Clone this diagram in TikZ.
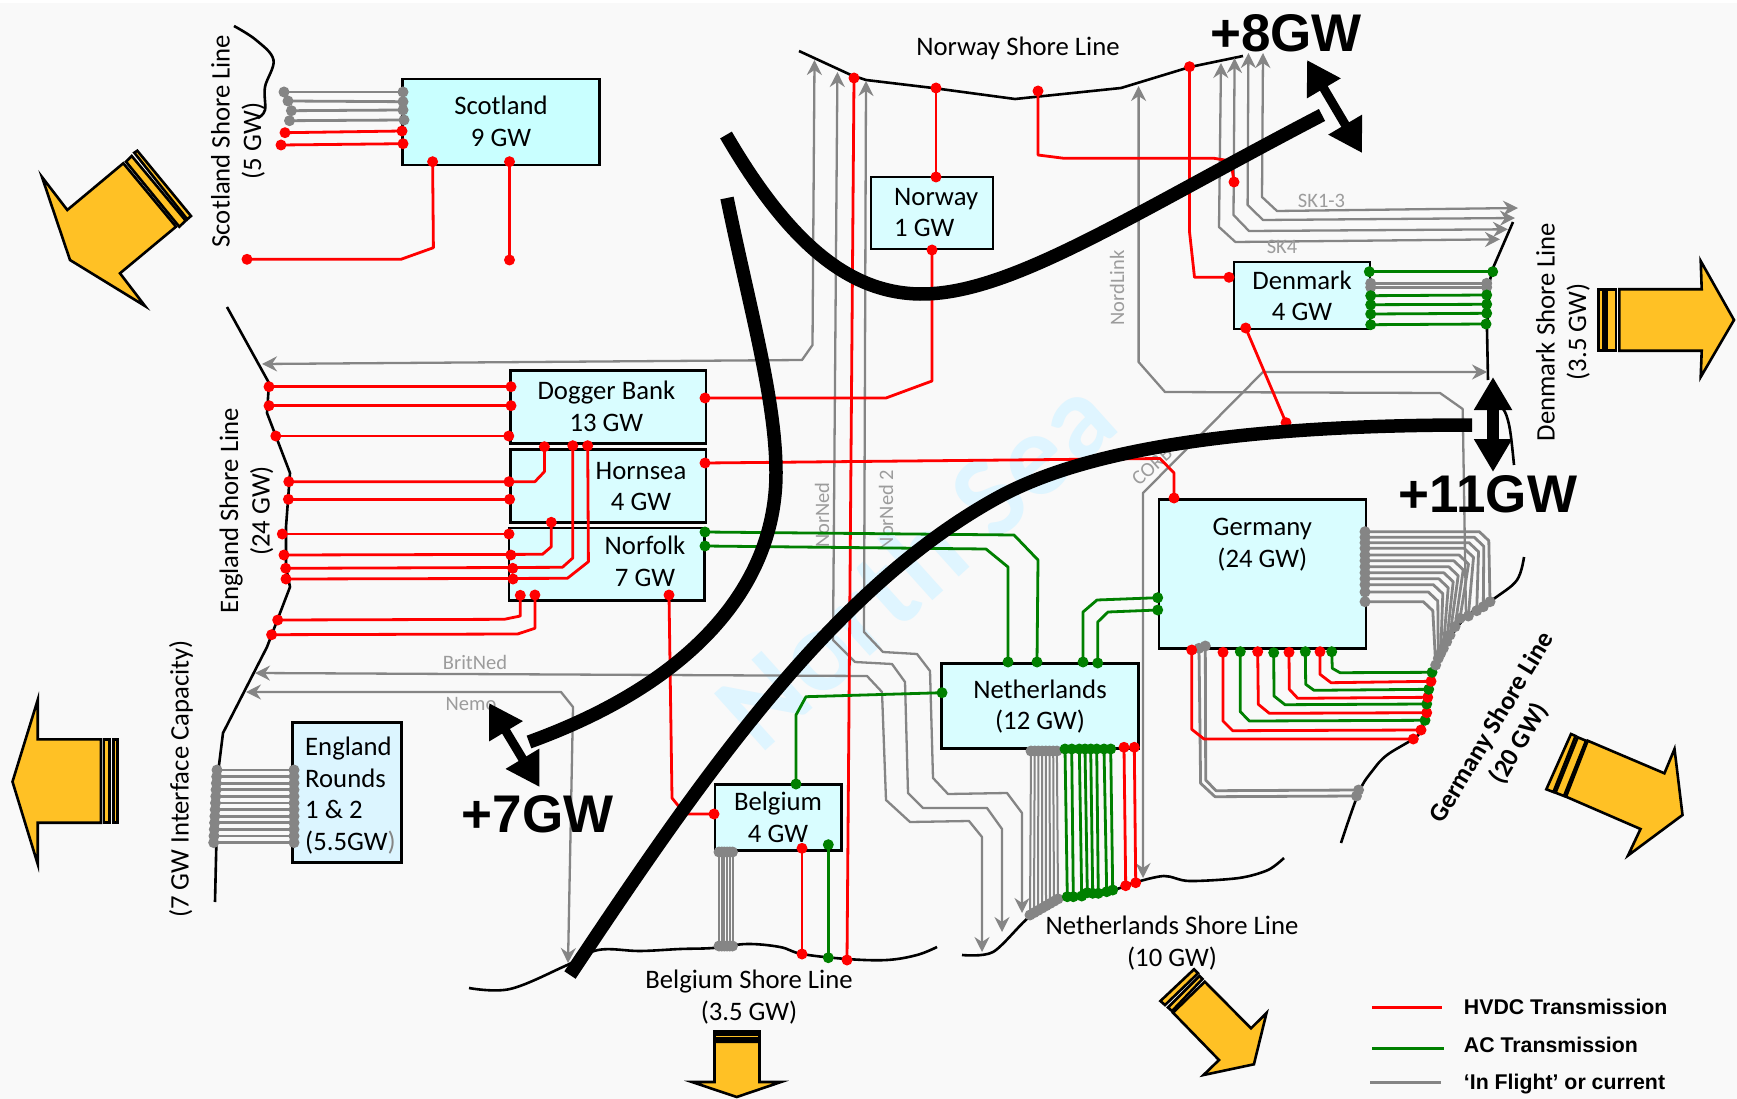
\documentclass[tikz,border=0pt]{standalone}
\usepackage{fontspec}
\setmainfont{Carlito}
\newfontfamily\headfont{Liberation Sans}
\usetikzlibrary{arrows.meta}
\definecolor{hv}{HTML}{FF0000}
\definecolor{ac}{HTML}{008000}
\definecolor{fl}{HTML}{858585}
\definecolor{bgc}{HTML}{F9F9F9}
\definecolor{boxa}{HTML}{D9FDFF}
\definecolor{boxb}{HTML}{C9FFFF}
\definecolor{boxc}{HTML}{DCF5FF}
\definecolor{sea}{HTML}{DFF5FF}
\definecolor{amber}{HTML}{FFC125}
\definecolor{tag}{HTML}{9C9C9C}
\tikzset{
  dot/.style={circle,inner sep=0pt,minimum size=11pt,draw=none},
  wireline/.style={line width=2.8pt,line join=round},
  flightline/.style={draw=fl,line width=2.3pt,line join=round},
  tipboth/.style={{Stealth[length=15pt,width=15pt,inset=5pt]}-{Stealth[length=15pt,width=15pt,inset=5pt]}},
  tipend/.style={-{Stealth[length=15pt,width=15pt,inset=5pt]}},
  region/.style={draw=black,line width=2.6pt,rectangle,inner sep=0pt,fill=boxa},
  lab/.style={inner sep=0pt,align=center,font=\fontsize{26.7}{31.5}\selectfont},
  labl/.style={inner sep=0pt,align=left,font=\fontsize{26.7}{31.5}\selectfont},
  tagl/.style={inner sep=0pt,text=tag,font=\fontsize{20.5}{24}\selectfont},
  big/.style={inner sep=0pt,font=\headfont\bfseries\fontsize{53}{60}\selectfont},
  legtxt/.style={inner sep=0pt,anchor=west,font=\headfont\bfseries\fontsize{21.3}{25}\selectfont},
  shore/.style={draw=black,line width=2.6pt,line join=round},
  wall/.style={draw=black,line width=13.5pt},
  dbl/.style={draw=black,line width=9pt,{Triangle[length=33pt,width=37pt]}-{Triangle[length=33pt,width=37pt]}},
  yarrow/.style={draw=black,fill=amber,line width=2.6pt,line join=miter,miter limit=10},
}
\newcount\wn
% a connector with a dot at each end
\newcommand\wire[4]{%
  \global\advance\wn by 1
  \node[dot,fill=#1] (w\the\wn a) at #2 {};
  \node[dot,fill=#1] (w\the\wn b) at #4 {};
  \draw[wireline,draw=#1] (w\the\wn a.center) #3 -- (w\the\wn b.center);
}
% a grey connector, with arrow tips
\newcommand\flight[4]{%
  \global\advance\wn by 1
  \coordinate (f\the\wn a) at #2;
  \coordinate (f\the\wn b) at #4;
  \draw[flightline,#1] (f\the\wn a) #3 -- (f\the\wn b);
}
\begin{document}
\begin{tikzpicture}[x=1pt,y=-1pt]
\useasboundingbox (0,0) rectangle (1737,1099);
\fill[white] (0,0) rectangle (1737,1099);
\fill[bgc] (0,3) rectangle (1737,1099);
% watermark
\node[inner sep=0pt,anchor=base,rotate=42,text=sea,font=\bfseries\fontsize{118}{124}\selectfont] (water) at (942,592) {North Sea};

% shore lines
\draw[shore] plot[smooth,tension=0.6] coordinates {(234,26) (256,40) (273.5,60) (265,87) (265,110) (258,118)};
\draw[shore] (799,51) -- (851,75) -- (866,80) -- (933,88) -- (1015,99) -- (1121,88) -- (1190,67) -- (1243,56);
\draw[shore] (227,307) -- (269,383) -- (267,413) -- (290,473) -- (286,527) -- (286,567) -- (290,587) -- (267,647) -- (223,733) -- (218,773) -- (215,902);
\draw[shore] plot[smooth,tension=0.6] coordinates {(469,988) (510,989) (565,966) (598,950) (640,951) (680,949) (713,948) (747,944) (780,947) (802,954) (847,959) (887,960) (917,955) (937,947)};
\draw[shore] plot[smooth,tension=0.5] coordinates {(962,955) (993,952) (1028,918) (1057,900) (1113,890) (1133,883) (1164,876) (1189,881) (1239,878) (1268,870) (1284,858)};
\draw[shore] plot[smooth,tension=0.6] coordinates {(1524,557) (1517,580) (1495,598) (1463,620) (1440,657) (1432,680) (1427,705) (1421,730) (1413,739) (1387,755) (1373,770) (1359,792) (1341,843)};
\draw[shore] (1513,222) -- (1493,268) -- (1490,280) -- (1487,330) -- (1488,380);
\draw[shore] plot[smooth,tension=0.6] coordinates {(1498,404) (1505,412) (1510,430) (1514,465)};

% region boxes
\node[region,fill=boxb,minimum width=197pt,minimum height=86pt] (scotbox) at (501,122) {};
\node[region,minimum width=122pt,minimum height=72pt] (norwbox) at (932,213) {};
\node[region,minimum width=136pt,minimum height=67pt] (denbox) at (1302,295.5) {};
\node[region,minimum width=195.6pt,minimum height=72.6pt] (dogbox) at (608.2,407) {};
\node[region,minimum width=195.6pt,minimum height=73pt] (hornbox) at (608.2,485.8) {};
\node[region,minimum width=195.6pt,minimum height=72.7pt] (norfbox) at (606.6,564.4) {};
\node[region,minimum width=207pt,minimum height=149.4pt] (gerbox) at (1262.6,574) {};
\node[region,minimum width=196.6pt,minimum height=85.4pt] (nethbox) at (1040,706) {};
\node[region,minimum width=126.7pt,minimum height=66pt] (belbox) at (778.3,817.3) {};
\node[region,fill=boxc,minimum width=108.6pt,minimum height=140.4pt] (engbox) at (347,792.5) {};

% grey connectors with arrow tips
\flight{tipboth}{(262,364)}{-- (802,360) -- (812.5,345)}{(814.5,60)}
\flight{tipboth}{(1002,932)}{-- (1002,829) -- (987,808) -- (923,808) -- (908,793) -- (905,682) -- (892,664) -- (855,662) -- (833,640)}{(837.4,72)}
\flight{tipboth}{(1022,913)}{-- (1022,813) -- (1007,793) -- (948,794) -- (933,778) -- (930,671) -- (917,654) -- (883,652) -- (864,632)}{(866,81)}
\flight{tipboth}{(255,673)}{-- (867,676) -- (882,692) -- (886,800) -- (910,822) -- (969,821) -- (982,837)}{(982,952)}
\flight{tipboth}{(246,692)}{-- (561,692) -- (573,707)}{(568,963)}
\flight{tipend}{(1466,617)}{-- (1462.7,409) -- (1440,393) -- (1165,392) -- (1138.6,362)}{(1138.6,86)}
\flight{tipboth}{(1487,372)}{-- (1263,372) -- (1143,493)}{(1143,878)}
\flight{tipboth}{(1263,53)}{-- (1262,197) -- (1277,211)}{(1518,208)}
\flight{tipboth}{(1248.4,53)}{-- (1247.6,205) -- (1263,220)}{(1515,218)}
\flight{tipboth}{(1234.6,58)}{-- (1233.5,215) -- (1249,231)}{(1508,229.3)}
\flight{tipboth}{(1221,63)}{-- (1219,227) -- (1235.4,242)}{(1500,239.3)}

% grey labels on the lines
\node[tagl] (sk13) at (1321.5,201) {SK1-3};
\node[tagl] (sk4) at (1282,247) {SK4};
\node[tagl,rotate=90] (nordl) at (1117,288) {NordLink};
\node[tagl,rotate=90] (norned) at (822,515) {NorNed};
\node[tagl,rotate=90] (norned2) at (886,510) {NorNed 2};
\node[tagl] (britned) at (475,662) {BritNed};
\node[tagl] (nemo) at (471,704) {Nemo};
\node[tagl,rotate=42] (cobra) at (1152,466) {CORB};

% HVDC, AC and grey wires: Scotland
\wire{fl}{(284,92)}{}{(403,92)}
\wire{fl}{(288,101)}{}{(403,101.7)}
\wire{fl}{(291.4,110.7)}{}{(403,110)}
\wire{fl}{(289.5,120.7)}{}{(404,120)}
\wire{hv}{(285,132.7)}{}{(402,131)}
\wire{hv}{(281,145)}{}{(403,143.7)}
\wire{hv}{(432.6,161.7)}{-- (433.4,247.7) -- (401,259.3)}{(247,259.3)}
\wire{hv}{(509.5,161.7)}{}{(509.5,260)}
% Norway
\wire{hv}{(936,88)}{}{(936,177)}
\wire{hv}{(705,398)}{-- (886,398) -- (932,381)}{(932,250)}
\wire{hv}{(854,78)}{}{(847,960)}
\wire{hv}{(1038,91)}{-- (1038,155) -- (1064,158.3) -- (1214,158.3) -- (1231,161)}{(1234,182)}
\wire{hv}{(1189.5,66.7)}{-- (1189.5,231.7) -- (1194.5,277.3)}{(1229,277.3)}
\wire{hv}{(1245.7,328)}{}{(1286,422.7)}
% England
\wire{hv}{(269,386.7)}{}{(511,386.7)}
\wire{hv}{(269,405.7)}{}{(511,405.7)}
\wire{hv}{(275.8,436)}{}{(508.8,436)}
\wire{hv}{(288.8,481.7)}{-- (534.9,481.7) -- (544.4,471.7)}{(544.4,446.7)}
\node[dot,fill=hv] (hdot) at (509,481.7) {};
\wire{hv}{(288.4,499.3)}{}{(509.6,499.3)}
\wire{hv}{(282.3,534)}{}{(509,534)}
\wire{hv}{(284,555)}{-- (542.5,554.3) -- (551.3,546.7)}{(551.3,522.3)}
\node[dot,fill=hv] (ndota) at (510.8,555) {};
\wire{hv}{(285.7,568.3)}{-- (562.4,567.3) -- (572.8,558)}{(572.8,445.7)}
\node[dot,fill=hv] (ndotb) at (512.7,568.3) {};
\wire{hv}{(286,579)}{-- (567.4,578.3) -- (588.4,561.7)}{(587.7,445.7)}
\node[dot,fill=hv] (ndotc) at (513,579) {};
\wire{hv}{(277.7,620)}{-- (504.2,619.3) -- (520.3,616)}{(520.3,595.3)}
\wire{hv}{(271.6,634.7)}{-- (517.6,634) -- (534.9,628.3)}{(534.9,595)}
\wire{hv}{(705,463)}{-- (1160,458.5) -- (1174,473)}{(1174,498)}
\wire{hv}{(669,595)}{-- (672,798) -- (685,814)}{(714,814)}
% AC links
\wire{ac}{(705,532)}{-- (1014,535) -- (1038,560)}{(1037,662)}
\wire{ac}{(705,546)}{-- (986,549) -- (1008,567)}{(1008,662)}
\wire{ac}{(1083,662)}{-- (1083,612) -- (1097,600)}{(1157.7,597.7)}
\wire{ac}{(1097.7,663)}{-- (1097.7,622) -- (1108,612)}{(1157.7,610)}
\wire{ac}{(942,692.7)}{-- (806,696.7) -- (796,715)}{(796,784)}
% Belgium
\wire{hv}{(802,848.3)}{}{(802,954)}
\wire{ac}{(828.3,844.7)}{}{(828.3,957.7)}
\begin{scope}[wireline/.style={line width=2pt}]
\foreach \i in {0,...,5}{\wire{fl}{({719+\i*2.7},852)}{}{({719+\i*2.7},946)}}
% Netherlands
\foreach \i in {0,...,7}{\wire{fl}{({1031+\i*3.7},751)}{}{({1030+\i*4},{915-\i*2.3})}}
\end{scope}
\wire{ac}{(1065,749)}{}{(1067.3,896.7)}
\wire{ac}{(1071.7,749)}{}{(1073.3,896.7)}
\wire{ac}{(1079.3,749)}{}{(1081.7,896)}
\wire{ac}{(1085,749)}{}{(1087.3,892.7)}
\wire{ac}{(1090.7,749)}{}{(1092.7,893.3)}
\wire{ac}{(1096.7,749)}{}{(1098.3,893.3)}
\wire{ac}{(1104,749)}{}{(1106.7,891.7)}
\wire{ac}{(1110.7,749)}{}{(1112.7,890)}
\wire{hv}{(1124,747.3)}{}{(1125.7,885.7)}
\wire{hv}{(1134.3,747.3)}{}{(1135.7,882.7)}
% Germany, south side
\wire{fl}{(1199,648.3)}{-- (1200.6,783.3) -- (1215,796.7)}{(1356.5,796)}
\wire{fl}{(1205.3,646)}{-- (1205.7,780) -- (1216,790.7)}{(1358.6,790)}
\wire{hv}{(1191.7,650)}{-- (1191.7,729.3) -- (1204,739)}{(1413.3,739)}
\wire{hv}{(1223,652.3)}{-- (1223,721) -- (1232.7,730.7)}{(1421,730)}
\wire{ac}{(1240.3,651.7)}{-- (1240.3,711.7) -- (1249.3,721)}{(1425,720.3)}
\wire{hv}{(1257.7,651.7)}{-- (1258.3,704.3) -- (1269.3,713.3)}{(1426.7,712.7)}
\wire{ac}{(1273.7,652.7)}{-- (1274,696) -- (1285,704.7)}{(1426.7,704)}
\wire{hv}{(1289,652.3)}{-- (1289.3,689.3) -- (1297.7,698.3)}{(1427.7,697.3)}
\wire{ac}{(1305.3,651.7)}{-- (1305.7,684.3) -- (1314,690.3)}{(1428.7,689.3)}
\wire{hv}{(1320,651.7)}{-- (1320,674.3) -- (1331,682.7)}{(1431,681.3)}
\wire{ac}{(1331.7,651.7)}{-- (1332.3,668.3) -- (1340,672.7)}{(1432,672.3)}
% Germany, east side
\foreach \yl/\ca/\ex/\ey in {531.7/1479.3/1490/601.7,537.3/1474.3/1483.3/606.7,542.7/1469/1476.7/610.7,548.3/1464/1468.3/616,555/1459/1460/618.3,560.7/1453.7/1455/626.7,566.7/1448.7/1450/635,572.7/1443.7/1446.7/641.7,578.7/1438.7/1443.3/648.3,584.7/1433.3/1440.7/653.3,592/1428.3/1438.3/658.3,601.7/1423.3/1435.7/665}{%
  \wire{fl}{(1365,\yl)}{-- (\ca,\yl) -- ({\ca+9.5},{\yl+9})}{(\ex,\ey)}
}
% Denmark
\wire{ac}{(1369.3,271.7)}{}{(1492.7,271.7)}
\wire{fl}{(1370.7,283.3)}{}{(1486.7,283.3)}
\wire{fl}{(1370.7,287.3)}{}{(1486.7,287.3)}
\wire{ac}{(1370.7,295.7)}{}{(1486.7,295)}
\wire{ac}{(1370.7,304.7)}{}{(1486.7,304.3)}
\wire{ac}{(1370.7,314)}{}{(1486.7,313.3)}
\wire{ac}{(1370.7,324.7)}{}{(1486,324)}
% England rounds
\foreach \i in {0,...,11}{\wire{fl}{({217-\i*0.3},{770+\i*6.6})}{}{(294,{770+\i*6.6})}}

% walls
\draw[wall] (726,135) .. controls (790,245) and (850,293) .. (920,294) .. controls (1010,295) and (1130,215) .. (1322,115);
\draw[wall] (727,198) .. controls (750,310) and (776,400) .. (776,473) .. controls (776,580) and (700,680) .. (529,742);
\draw[wall] (570,975) .. controls (700,780) and (830,590) .. (997,498) .. controls (1080,452) and (1230,425) .. (1472,425);

% double arrows
\coordinate (ea) at (1307,60);
\coordinate (eb) at (1362,153);
\draw[dbl] (ea) -- (eb);
\coordinate (ga) at (1493,377);
\coordinate (gb) at (1493,472);
\draw[dbl,line width=12pt,{Triangle[length=33pt,width=36pt]}-{Triangle[length=33pt,width=36pt]}] (ga) -- (gb);
\coordinate (sa) at (489,703);
\coordinate (sb) at (539.5,787);
\draw[dbl] (sa) -- (sb);

% headline figures
\node[big] (p8) at (1286,33) {+8GW};
\node[big,font=\headfont\bfseries\fontsize{53}{60}\selectfont] (p11) at (1488,494) {+11GW};
\node[big] (p7) at (537.5,814) {+7GW};

% texts in boxes
\node[lab] (scott) at (501,121.5) {Scotland\\9 GW};
\node[labl,anchor=west] (norwt) at (894,212.5) {Norway\\1 GW};
\node[lab] (dent) at (1302,296) {Denmark\\4 GW};
\node[lab] (dogt) at (606.4,406.5) {Dogger Bank\\13 GW};
\node[lab] (hornt) at (641,486.7) {Hornsea\\4 GW};
\node[lab] (norft) at (645,561.5) {Norfolk\\7 GW};
\node[lab] (gert) at (1262.3,544.5) {Germany\\(24 GW)};
\node[lab] (netht) at (1040,706.5) {Netherlands\\(12 GW)};
\node[lab] (belt) at (778,817.5) {Belgium\\4 GW};
\node[labl,anchor=west] (engt) at (305,795.5) {England\\Rounds\\1 \& 2\\(5.5GW{\color{fl})}};

% shore labels
\node[lab,rotate=90] (scots) at (238,141) {Scotland Shore Line\\(5 GW)};
\node[lab] (norws) at (1018,48) {Norway Shore Line};
\node[lab,rotate=90] (engs) at (246.5,511) {England Shore Line\\(24 GW)};
\node[lab,rotate=90] (engi) at (181,779) {(7 GW Interface Capacity)};
\node[lab,rotate=90] (dens) at (1563,332) {Denmark Shore Line\\(3.5 GW)};
\node[lab] (bels) at (749,997) {Belgium Shore Line\\(3.5 GW)};
\node[lab] (neths) at (1172,943) {Netherlands Shore Line\\(10 GW)};
\node[lab,rotate=59,font=\bfseries\fontsize{26}{31.5}\selectfont] (gers) at (1506,736) {Germany Shore Line\\(20 GW)};

% yellow arrows: east
\draw[yarrow] (1598.3,289.3) rectangle (1603.3,350.7);
\draw[yarrow] (1606.7,289.3) rectangle (1616,350.7);
\draw[yarrow] (1619.3,289.3) -- (1701.7,289.3) -- (1700.7,261) -- (1734,320) -- (1700.7,377) -- (1701.7,350.7) -- (1619.3,350.7) -- cycle;
% west
\draw[yarrow] (104,739.3) rectangle (109.3,822.7);
\draw[yarrow] (113.3,739.3) rectangle (117.3,822.7);
\draw[yarrow] (12.5,781.7) -- (37.7,700) -- (37.7,739.3) -- (101,739.3) -- (101,822.7) -- (37.7,822.7) -- (37.7,864) -- cycle;
% north-west
\draw[yarrow] (126,161.7) -- (131.7,156) -- (185.7,220.7) -- (179.3,226.7) -- cycle;
\draw[yarrow] (134.3,152.7) -- (137.3,150.7) -- (191,216) -- (187.3,219.3) -- cycle;
\draw[yarrow] (42,177) -- (67.3,210) -- (123.3,163.3) -- (176,226.7) -- (120,273.3) -- (145,306) -- (70,260) -- cycle;
% south-east (Germany)
\draw[yarrow] (1571,734) -- (1575.6,736) -- (1553.4,792) -- (1546.3,789.3) -- cycle;
\draw[yarrow] (1577.7,737.3) -- (1586,740.7) -- (1564,796) -- (1555.5,792.7) -- cycle;
\draw[yarrow] (1587.7,740.7) -- (1664.4,773.3) -- (1674.5,749) -- (1682.5,815) -- (1628,855.5) -- (1640.5,829) -- (1566,796.7) -- cycle;
% south-east (Netherlands)
\draw[yarrow] (1194,969.3) -- (1198,973.3) -- (1165,1005) -- (1160.4,1001) -- cycle;
\draw[yarrow] (1199.5,976) -- (1202.5,979) -- (1172,1011) -- (1168,1007.5) -- cycle;
\draw[yarrow] (1204.8,981.7) -- (1251,1028.3) -- (1266.5,1013) -- (1253.9,1064.3) -- (1203.5,1075) -- (1219,1060) -- (1173,1012.7) -- cycle;
% south
\fill[black] (713.3,1030) rectangle (760.7,1041.5);
\draw[amber,line width=1.2pt] (716,1036.7) -- (758,1036.7);
\draw[yarrow] (714.5,1041.7) -- (759.5,1041.7) -- (759.5,1082) -- (781,1082) -- (736.7,1097) -- (692,1082) -- (714.5,1082) -- cycle;

% legend
\coordinate (la) at (1372,1007); \coordinate (lb) at (1442.4,1007);
\draw[draw=hv,line width=3pt] (la) -- (lb);
\coordinate (lc) at (1372.4,1048.3); \coordinate (ld) at (1443.6,1048.3);
\draw[draw=ac,line width=3pt] (lc) -- (ld);
\coordinate (le) at (1370,1082.3); \coordinate (lf) at (1441,1082.3);
\draw[draw=fl,line width=3pt] (le) -- (lf);
\node[legtxt] (lt1) at (1463.7,1006.7) {HVDC Transmission};
\node[legtxt] (lt2) at (1463.7,1045) {AC Transmission};
\node[legtxt] (lt3) at (1463.7,1084) {‘In Flight’ or current};
\end{tikzpicture}
\end{document}
